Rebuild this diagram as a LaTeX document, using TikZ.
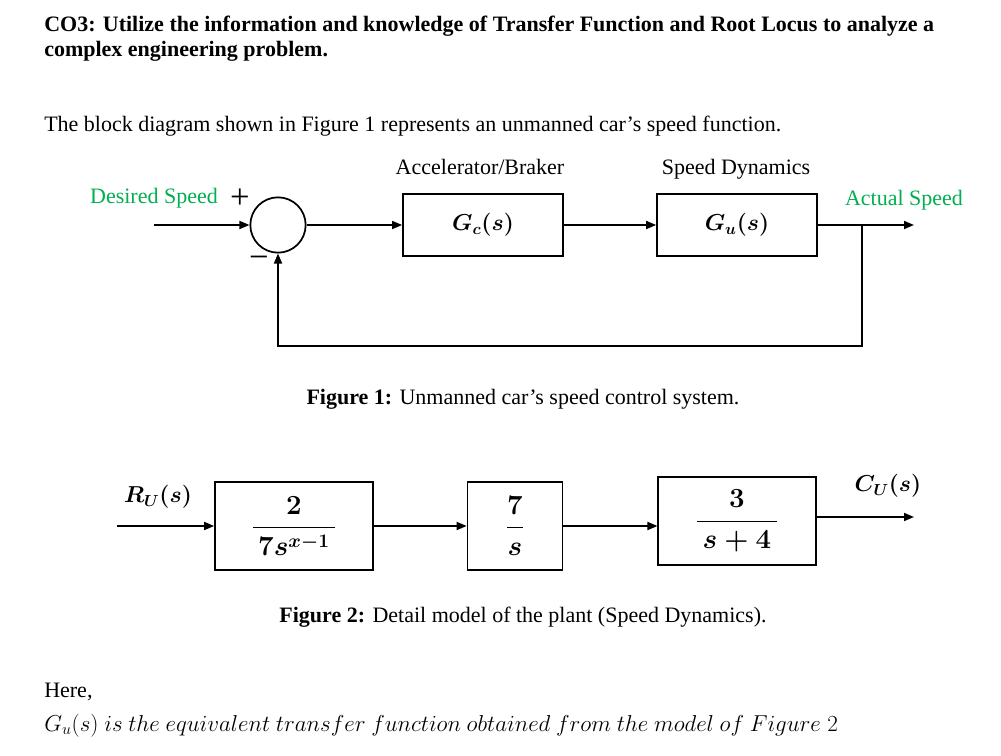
\documentclass[tikz,border=0pt]{standalone}
\usepackage{amsmath,bm}
\usepackage{fontspec}
\setmainfont{Liberation Serif}
\usetikzlibrary{arrows.meta}
\definecolor{sgreen}{HTML}{00B050}
\begin{document}
\begin{tikzpicture}[x=0.75pt,y=-0.75pt,
  blk/.style={draw,line width=1.3pt,inner sep=0pt,font=\fontsize{18}{20}\selectfont\boldmath},
  fblk/.style={blk,font=\fontsize{20.5}{22}\selectfont\boldmath},
  conn/.style={line width=1.3pt,-{Triangle[length=7.5pt,width=6pt]}},
  txt/.style={font=\fontsize{16.5}{19}\selectfont,inner sep=0pt},
  btxt/.style={txt,font=\fontsize{16.5}{19}\selectfont\bfseries},
  gtxt/.style={txt,text=sgreen},
  mlab/.style={inner sep=0pt,font=\fontsize{18}{20}\selectfont\boldmath},
  sgn/.style={inner sep=0pt,font=\fontsize{26}{28}\selectfont}]
\useasboundingbox (0,0) rectangle (1001,756);

% header text
\node[btxt,anchor=base west] (t1) at (44,32) {CO3: Utilize the information and knowledge of Transfer Function and Root Locus to analyze a};
\node[btxt,anchor=base west] (t2) at (44,57) {complex engineering problem.};
\node[txt,anchor=base west] (t3) at (44,132) {The block diagram shown in Figure 1 represents an unmanned car’s speed function.};

% Figure 1
\node[draw,circle,line width=1.3pt,minimum size=41.5pt,inner sep=0pt] (sum) at (278,225) {};
\node[blk,minimum width=120pt,minimum height=46.5pt] (gc) at (483,225) {$G_c(s)$};
\node[blk,minimum width=120pt,minimum height=46.5pt] (gu) at (737,225) {$G_u(s)$};
\node[txt,anchor=base] (la) at (480,175) {Accelerator/Braker};
\node[txt,anchor=base] (ls) at (736,175) {Speed Dynamics};
\node[gtxt,anchor=base] (ld) at (154,204) {Desired Speed};
\node[gtxt,anchor=base] (lo) at (904,206) {Actual Speed};
\node[sgn] (plus) at (240,199) {+};
\node[sgn] (minus) at (259,262) {−};

\coordinate (in1) at (154,225);
\coordinate (out1) at (914,225);
\coordinate (br) at (862,225);
\coordinate (fb) at (278,346);
\draw[conn] (in1) -- (sum.west);
\draw[conn] (sum.east) -- (gc.west);
\draw[conn] (gc.east) -- (gu.west);
\draw[conn] (gu.east) -- (out1);
\draw[conn] (br) |- (fb) -- (sum.south);

\node[txt,anchor=base] (cap1) at (523,405) {\textbf{Figure 1:} Unmanned car’s speed control system.};

% Figure 2
\node[fblk,minimum width=118.5pt,minimum height=66pt] (b1) at (294,526) {$\dfrac{2}{\,7s^{x-1}\,}$};
\node[fblk,minimum width=71.25pt,minimum height=66pt] (b2) at (515,526) {$\dfrac{7}{s}$};
\node[fblk,minimum width=118pt,minimum height=66pt] (b3) at (737,521) {$\dfrac{3}{\,s+4\,}$};
\node[mlab] (ru) at (158,497) {$R_U(s)$};
\node[mlab] (cu) at (888,486) {$C_U(s)$};
\coordinate (in2) at (117,526);
\coordinate (out2) at (914,517);
\draw[conn] (in2) -- (b1.west);
\draw[conn] (b1.east) -- (b2.west);
\draw[conn] (b2.east) -- (b2.east -| b3.west);
\draw[conn] (b3.east |- out2) -- (out2);

\node[txt,anchor=base] (cap2) at (523,622) {\textbf{Figure 2:} Detail model of the plant (Speed Dynamics).};

\node[txt,anchor=base west] (here) at (44,697) {Here,};
\node[inner sep=0pt,anchor=base west,font=\fontsize{17.2}{19}\selectfont] (gl) at (44,731) {$G_u(s)\ is\ the\ equivalent\ transfer\ function\ obtained\ from\ the\ model\ of\ Figure\ 2$};
\end{tikzpicture}
\end{document}
